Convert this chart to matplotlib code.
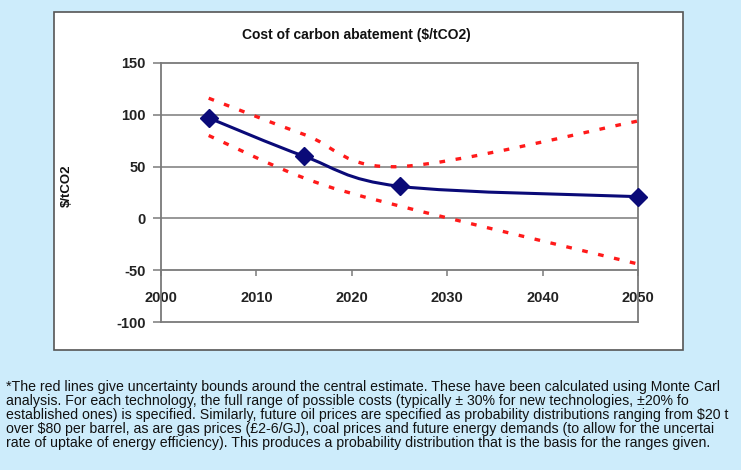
import numpy as np
import matplotlib
matplotlib.use("Agg")
import matplotlib.pyplot as plt
from matplotlib.path import Path
from matplotlib.patches import PathPatch, Rectangle

# ---- data ----
years = [2005, 2015, 2025, 2050]
central = [97, 60, 31, 21]
upper = [116, 81, 50, 94]
lower = [80, 39, 12, -44]
x_ticks = [2000, 2010, 2020, 2030, 2040, 2050]
y_ticks = [-100, -50, 0, 50, 100, 150]
title = "Cost of carbon abatement ($/tCO2)"
ylabel = "\\$/tCO2"
footnote = [
    "*The red lines give uncertainty bounds around the central estimate. These have been calculated using Monte Carl",
    "analysis. For each technology, the full range of possible costs (typically \u00b1 30% for new technologies, \u00b120% fo",
    "established ones) is specified. Similarly, future oil prices are specified as probability distributions ranging from $20 t",
    "over $80 per barrel, as are gas prices (\u00a32-6/GJ), coal prices and future energy demands (to allow for the uncertai",
    "rate of uptake of energy efficiency). This produces a probability distribution that is the basis for the ranges given.",
]

W, H = 741, 470
BG = "#cdecfb"
BOLD = ["Liberation Sans", "DejaVu Sans"]
NARROW = ["Liberation Sans Narrow", "Liberation Sans", "DejaVu Sans"]


def smooth_path(xs, ys):
    """Excel-style smoothed line: cubic Bezier through the points."""
    pts = np.column_stack([xs, ys]).astype(float)
    n = len(pts)
    verts = [pts[0]]
    codes = [Path.MOVETO]
    for i in range(n - 1):
        p0 = pts[i - 1] if i > 0 else pts[i]
        p1 = pts[i]
        p2 = pts[i + 1]
        p3 = pts[i + 2] if i + 2 < n else pts[i + 1]
        c1 = p1 + (p2 - p0) / 6.0
        c2 = p2 - (p3 - p1) / 6.0
        verts += [c1, c2, p2]
        codes += [Path.CURVE4] * 3
    return Path(verts, codes)


fig = plt.figure(figsize=(W / 100, H / 100), dpi=100, facecolor=BG)

# white chart panel
panel = Rectangle((54 / W, 1 - 350 / H), (683 - 54) / W, (350 - 12) / H,
                  transform=fig.transFigure, facecolor="white",
                  edgecolor="#555555", linewidth=1.2, zorder=-5)
fig.patches.append(panel)

ax = fig.add_axes([161 / W, 1 - 322 / H, (638 - 161) / W, (322 - 63) / H], zorder=2)
ax.set_facecolor("white")
ax.set_xlim(2000, 2050)
ax.set_ylim(-100, 150)

# gridlines
for y in [0, 50, 100]:
    ax.axhline(y, color="#7a7a7a", lw=1.1, zorder=1)
ax.axhline(-100, color="#7a7a7a", lw=1.3, zorder=1, clip_on=False)

for s in ["top", "right", "left"]:
    ax.spines[s].set_color("#7a7a7a")
    ax.spines[s].set_linewidth(1.3)
ax.spines["bottom"].set_position(("data", -50))
ax.spines["bottom"].set_color("#7a7a7a")
ax.spines["bottom"].set_linewidth(1.3)

ax.set_xticks(x_ticks)
ax.set_yticks(y_ticks)
ax.set_xticklabels([str(v) for v in x_ticks], fontfamily=BOLD, fontweight="bold", fontsize=10.5)
ax.set_yticklabels([str(v) for v in y_ticks], fontfamily=BOLD, fontweight="bold", fontsize=10.5)
ax.tick_params(axis="x", direction="out", length=4, width=1.1, color="#7a7a7a", pad=11, labelcolor="#222222")
ax.tick_params(axis="y", direction="out", length=6, width=1.1, color="#7a7a7a", pad=5, labelcolor="#222222")

# red uncertainty bounds (dotted)
for series in (upper, lower):
    p = PathPatch(smooth_path(years, series), facecolor="none", edgecolor="#ff1a1a",
                  lw=2.4, linestyle=(0, (1.7, 3.2)), capstyle="butt", zorder=3)
    ax.add_patch(p)

# central estimate
ax.add_patch(PathPatch(smooth_path(years, central), facecolor="none", edgecolor="#0a0a78",
                       lw=2.2, zorder=4))
ax.plot(years, central, linestyle="none", marker="D", markersize=9,
        color="#0a0a78", zorder=5, clip_on=False)

fig.text(356 / W, 1 - 35 / H, title, ha="center", va="center",
         fontfamily=BOLD, fontweight="bold", fontsize=10, color="#111111")
fig.text(67 / W, 1 - 186 / H, ylabel, ha="center", va="center", rotation=90,
         fontfamily=BOLD, fontweight="bold", fontsize=9.5, color="#111111")

for i, line in enumerate(footnote):
    fig.text(6 / W, 1 - (387 + 14.1 * i) / H, line, ha="left", va="center",
             fontfamily=NARROW, fontsize=10.2, color="#111111")

fig.savefig("out.png", dpi=100, facecolor=BG)
